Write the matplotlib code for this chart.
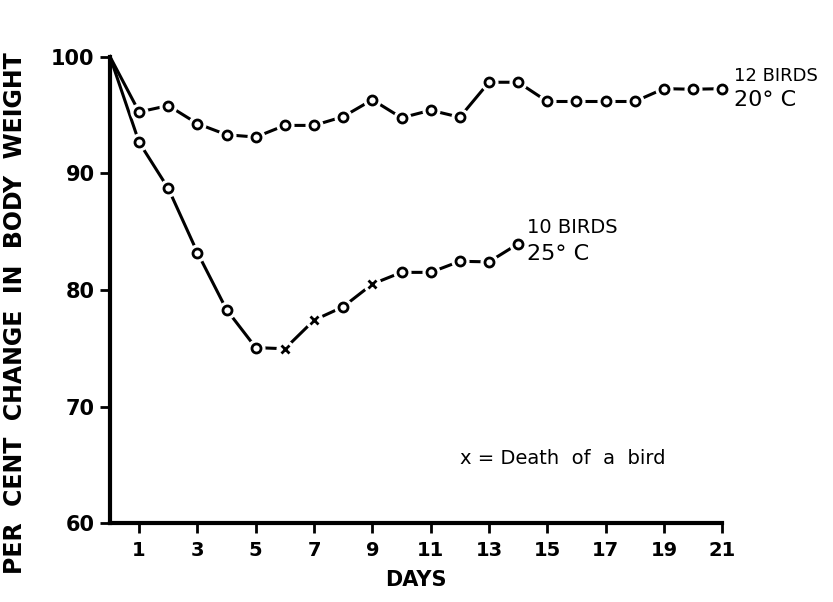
import matplotlib.pyplot as plt

days = list(range(0, 22))
birds_20c = [100, 95.25, 95.8, 94.25, 93.3, 93.1, 94.1, 94.1, 94.85, 96.3, 94.75,
             95.4, 94.8, 97.8, 97.8, 96.15, 96.15, 96.15, 96.15, 97.25, 97.2, 97.25]
days_25c = list(range(0, 15))
birds_25c = [100, 92.65, 88.7, 83.2, 78.3, 75.05, 74.95, 77.4, 78.55, 80.5, 81.5,
             81.5, 82.45, 82.4, 83.95]
death_days = [6, 7, 9]
xtick_days = [1, 3, 5, 7, 9, 11, 13, 15, 17, 19, 21]
ytick_vals = [60, 70, 80, 90, 100]

fig = plt.figure(figsize=(8.33, 6.02), dpi=100)
ax = fig.add_axes([0.132, 0.131, 0.735, 0.775])


def draw_series(xs, ys, deaths):
    ax.plot(xs, ys, color='black', lw=2.2, zorder=2, clip_on=False)
    circ_x = [x for x in xs[1:] if x not in deaths]
    circ_y = [ys[xs.index(x)] for x in circ_x]
    dx = [x for x in xs if x in deaths]
    dy = [ys[xs.index(x)] for x in dx]
    # white halo so lines stop short of the markers
    ax.plot(xs[1:], ys[1:], ls='none', marker='o', ms=12, mfc='white', mec='white', zorder=3, clip_on=False)
    ax.plot(circ_x, circ_y, ls='none', marker='o', ms=6.5, mfc='white', mec='black', mew=2, zorder=4, clip_on=False)
    ax.plot(dx, dy, ls='none', marker='x', ms=6, mec='black', mew=2, zorder=4, clip_on=False)


draw_series(days, birds_20c, [])
draw_series(days_25c, birds_25c, death_days)

ax.set_xlim(0, 21)
ax.set_ylim(60, 100)
ax.set_xticks(xtick_days)
ax.set_xticklabels([str(d) for d in xtick_days], fontsize=14, fontweight='bold')
ax.set_yticks(ytick_vals)
ax.set_yticklabels([str(v) for v in ytick_vals], fontsize=15, fontweight='bold')
ax.tick_params(axis='both', direction='out', length=7, width=2, color='black')
ax.tick_params(axis='x', pad=6)
ax.tick_params(axis='y', pad=4)

for s in ['top', 'right']:
    ax.spines[s].set_visible(False)
ax.spines['left'].set_linewidth(3)
ax.spines['bottom'].set_linewidth(3)

ax.set_xlabel('DAYS', fontsize=15, fontweight='bold', labelpad=7)
ax.set_ylabel('PER  CENT  CHANGE  IN  BODY  WEIGHT', fontsize=17, fontweight='bold')
ax.yaxis.set_label_coords(-0.135, 0.45)

ax.text(21.4, 97.6, '12 BIRDS', fontsize=13, va='bottom', ha='left')
ax.text(21.4, 97.1, '20° C', fontsize=16, va='top', ha='left')
ax.text(14.3, 84.5, '10 BIRDS', fontsize=14, va='bottom', ha='left')
ax.text(14.3, 83.9, '25° C', fontsize=16, va='top', ha='left')
ax.text(12.0, 65.5, 'x = Death  of  a  bird', fontsize=14, ha='left', va='center')

fig.savefig('out.png', dpi=100)
